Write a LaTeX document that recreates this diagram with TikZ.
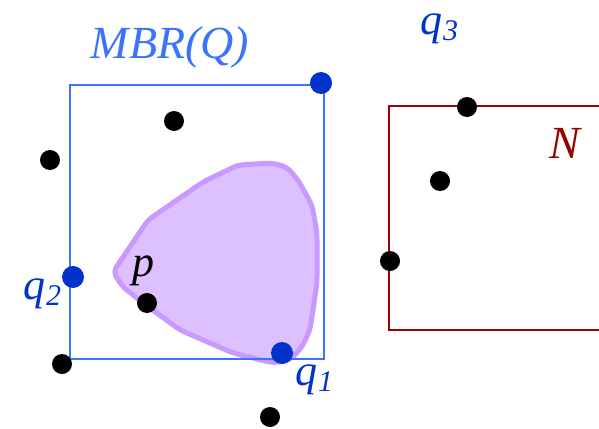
\documentclass[tikz,border=0pt]{standalone}
\usepackage{fontspec}
\setmainfont{Liberation Serif}
\definecolor{mbrblue}{HTML}{3B73FF}
\definecolor{qblue}{HTML}{0033CC}
\definecolor{nred}{HTML}{990000}
\definecolor{regfill}{HTML}{DCC0FF}
\definecolor{regline}{HTML}{C899FF}
\tikzset{
  pt/.style={circle,fill=black,inner sep=0pt,minimum size=20pt},
  qpt/.style={circle,fill=qblue,inner sep=0pt,minimum size=22pt},
  lbl/.style={inner sep=0pt,font=\fontsize{44}{48}\selectfont\itshape},
}
\newcommand{\qq}[1]{q\kern1pt\raisebox{-6pt}{\fontsize{30}{32}\selectfont\itshape #1}}
\begin{document}
\begin{tikzpicture}[x=1pt,y=-1pt]
\useasboundingbox (0,0) rectangle (599,428);
% region
\draw[line width=5pt,regline,fill=regfill,line join=round,rounded corners=6pt]
 (113,272) -- (148,220) -- (203,182) -- (238,165) -- (272,163) -- (287,167)
 -- (298,180) -- (312,205) -- (317,233) -- (317,283) -- (310,330) -- (302,347)
 -- (290,360) -- (273,363) -- (233,353) -- (180,330) -- (143,303) -- (123,287) -- cycle;
% MBR
\draw[mbrblue,line width=2pt] (70,85) rectangle (324,359);
% N
\draw[nred,line width=2pt] (600,106) -- (389,106) -- (389,330) -- (600,330);
% points
\node[pt] (a) at (174,121) {};
\node[pt] (b) at (50,160) {};
\node[pt] (c) at (440,181) {};
\node[pt] (d) at (467,107) {};
\node[pt] (e) at (390,261) {};
\node[pt] (f) at (147,303) {};
\node[pt] (g) at (62,364) {};
\node[pt] (h) at (270,417) {};
\node[qpt] (q1) at (282,353) {};
\node[qpt] (q2) at (73,277) {};
\node[qpt] (q3) at (321,83) {};
% labels
\node[lbl,mbrblue,font=\fontsize{46}{50}\selectfont\itshape] (mbr) at (170,47) {MBR(Q)};
\node[lbl,nred,font=\fontsize{46}{50}\selectfont\itshape] (nl) at (565,143) {N};
\node[lbl] (pl) at (143,271) {p};
\node[lbl,qblue] (l3) at (439,29) {\qq{3}};
\node[lbl,qblue] (l2) at (42,294) {\qq{2}};
\node[lbl,qblue] (l1) at (314,380) {\qq{1}};
\end{tikzpicture}
\end{document}
